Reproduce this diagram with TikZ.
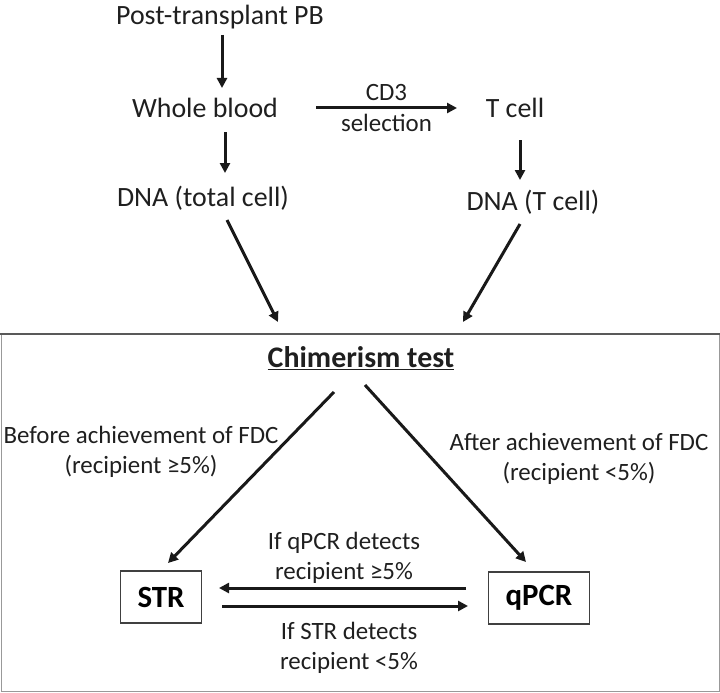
\documentclass[tikz,border=0pt]{standalone}
\usepackage{fontspec}
\setmainfont{Carlito}
\usetikzlibrary{arrows.meta,calc}

\begin{document}
\begin{tikzpicture}[x=1bp,y=-1bp,
  lbl/.style={font=\fontsize{28}{32}\selectfont,text=black!88,inner sep=2pt},
  cond/.style={font=\fontsize{25}{30}\selectfont,text=black!88,align=center,inner sep=1pt},
  box/.style={draw=black!75,line width=1.2pt,font=\fontsize{31}{36}\selectfont\bfseries,
    inner xsep=17bp,minimum height=52bp},
  arr/.style={-{Triangle[length=10bp,width=10bp]},line width=3bp,black!90}]
  \useasboundingbox (0,0) rectangle (720,693);
  \draw[black!40,line width=1pt] (1,334) rectangle (719,691);
  \draw[black!65,line width=2.5pt] (0,334) -- (720,334);
  \node[lbl] (pb) at (220,17) {Post-transplant PB};
  \node[lbl] (wb) at (205,108) {Whole blood};
  \node[lbl] (tc) at (515,108) {T cell};
  \node[lbl] (dnat) at (203,198) {DNA (total cell)};
  \node[lbl] (dnac) at (533,202) {DNA (T cell)};
  \node[lbl,font=\fontsize{30}{34}\selectfont\bfseries] (chim) at (361,358) {\underline{Chimerism test}};
  \node[box] (str) at (161,597) {STR};
  \node[box] (qpcr) at (539,598) {qPCR};
  \node[cond] (bef) at (141,452) {Before achievement of FDC\\(recipient ≥5\%)};
  \node[cond] (aft) at (579,459) {After achievement of FDC\\(recipient <5\%)};
  \node[cond] (ifq) at (344,558) {If qPCR detects\\recipient ≥5\%};
  \node[cond] (ifs) at (349,648) {If STR detects\\recipient <5\%};
  \draw[arr] ($(pb)+(2,18)$) -- ($(wb)+(17,-20)$);
  \draw[arr] ($(wb)+(111,0)$) -- node[cond,above=5bp] {CD3} node[cond,below=4bp] {selection} ($(tc)+(-58,0)$);
  \draw[arr] ($(wb)+(20,24)$) -- ($(dnat)+(22,-25)$);
  \draw[arr] ($(tc)+(5,32)$) -- ($(dnac)+(-13,-22)$);
  \draw[arr] ($(dnat)+(24,22)$) -- ($(chim)+(-83,-36)$);
  \draw[arr] ($(dnac)+(-13,22)$) -- ($(chim)+(102,-36)$);
  \draw[arr] ($(chim)+(-27,34)$) -- ($(str)+(7,-34)$);
  \draw[arr] ($(chim)+(4,27)$) -- ($(qpcr)+(-13,-36)$);
  \draw[arr] ($(qpcr)+(-73,-10)$) -- ($(str)+(58,-9)$);
  \draw[arr] ($(str)+(61,9)$) -- ($(qpcr)+(-71,8)$);
\end{tikzpicture}
\end{document}
